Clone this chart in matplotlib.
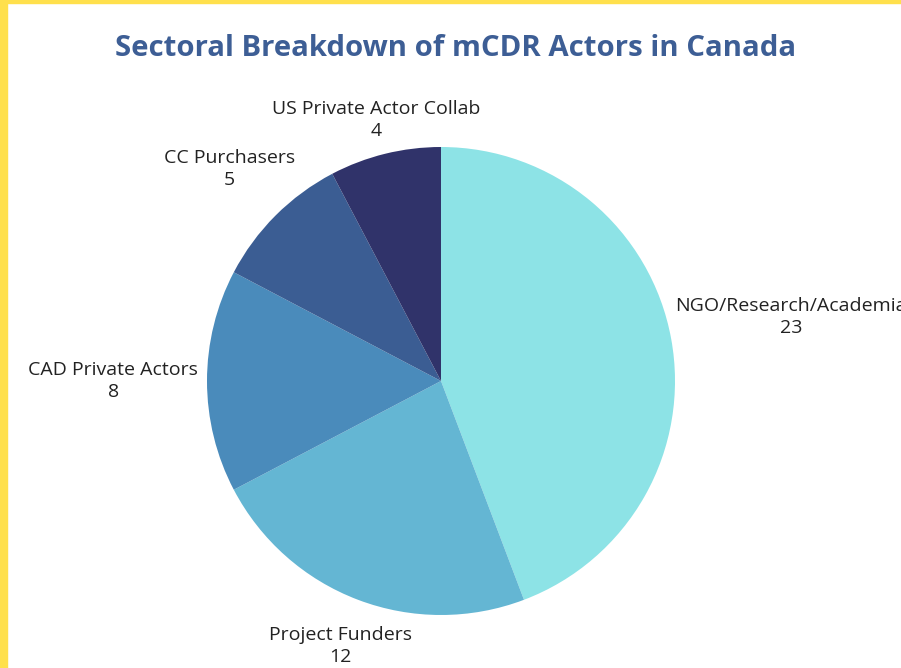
import matplotlib.pyplot as plt
from matplotlib.patches import Rectangle
import numpy as np

# data
sectors = ["NGO/Research/Academia", "Project Funders", "CAD Private Actors",
           "CC Purchasers", "US Private Actor Collab"]
counts = [23, 12, 8, 5, 4]
colors = ["#8DE3E6", "#64B6D3", "#4A8BBB", "#3B5D93", "#30336A"]
label_dist = [1.52, 1.21, 1.40, 1.28, 1.15]

W, H = 901, 668
cx, cy, rad = 441, 381, 234  # pie centre/radius in pixels

fig = plt.figure(figsize=(W / 100, H / 100), dpi=100)
fig.patch.set_facecolor("white")

ax = fig.add_axes([0, 0, 1, 1])
ax.pie(counts, colors=colors, startangle=90, counterclock=False,
       wedgeprops={"linewidth": 0})
ax.set_xlim(-cx / rad, (W - cx) / rad)
ax.set_ylim(-(H - cy) / rad, cy / rad)
ax.axis("off")

# labels outside each wedge
total = sum(counts)
cum = 0
for name, n, d in zip(sectors, counts, label_dist):
    mid = (cum + n / 2) / total * 2 * np.pi
    cum += n
    x, y = d * np.sin(mid), d * np.cos(mid)
    ax.text(x, y, f"{name}\n{n}", ha="center", va="center",
            fontsize=14, family="Open Sans", color="#222222", linespacing=1.3)

fig.text(456 / W, 1 - 48 / H, "Sectoral Breakdown of mCDR Actors in Canada",
         ha="center", va="center", fontsize=21.2, fontweight="bold",
         family="Open Sans", color="#3D5E95")

# yellow frame on the left and top
fig.patches.append(Rectangle((0, 0), 7 / W, 1, transform=fig.transFigure,
                             color="#FFE04C", zorder=10))
fig.patches.append(Rectangle((0, 1 - 3 / H), 1, 3 / H, transform=fig.transFigure,
                             color="#FFE04C", zorder=10))

fig.savefig("out.png", dpi=100)
